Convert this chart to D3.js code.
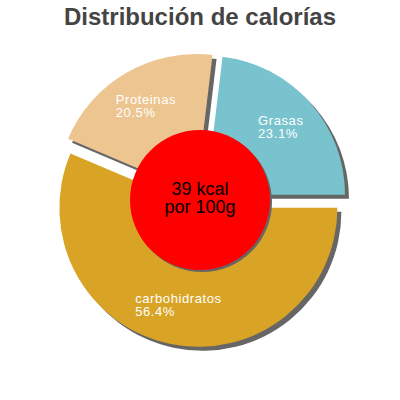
<!DOCTYPE html>
<html lang="es">
<head>
    <meta charset="utf-8">
    <title>calorias</title>
    <script type="text/javascript" src="https://cdnjs.cloudflare.com/ajax/libs/d3/7.8.5/d3.min.js"></script>
    <style>
      body { margin: 0; background: #fff; }
      text { font-family: "Liberation Sans", Arial, sans-serif; }
    </style>
</head>
<body>
    <script type="text/javascript">
      //chart data
      var categories = ["carbohidratos", "Proteinas", "Grasas"];
      var percents = [56.4, 20.5, 23.1];
      var colors = ["#d9a425", "#edc591", "#78c3cd"];
      var kcal = 39;
      var titleText = "Distribución de calorías";

      //dimensions
      var width = 400,
          height = 400,
          cx = 200,
          cy = 200,
          radius = 139,
          innerR = 70,
          explode = 8,
          labelR = 100;

      var svg = d3.select("body")
                  .append("svg")
                  .attr("width", width)
                  .attr("height", height);

      //title
      svg.append("text")
         .attr("x", width / 2)
         .attr("y", 25)
         .attr("text-anchor", "middle")
         .style("font-size", "24px")
         .style("font-weight", "bold")
         .style("fill", "#444")
         .text(titleText);

      var pie = d3.pie()
                  .sort(null)
                  .startAngle(Math.PI / 2)
                  .endAngle(Math.PI / 2 + 2 * Math.PI)
                  .value(function(d) { return d; });

      var arcs = pie(percents);

      var arc = d3.arc()
                  .innerRadius(0)
                  .outerRadius(radius);

      //offset of every slice along its middle angle
      function offset(d) {
        var a = (d.startAngle + d.endAngle) / 2;
        return [Math.sin(a) * explode, -Math.cos(a) * explode];
      }

      var g = svg.append("g")
                 .attr("transform", "translate(" + cx + "," + cy + ")");

      //shadows first
      g.selectAll(".shadow")
       .data(arcs)
       .enter()
       .append("path")
       .attr("class", "shadow")
       .attr("d", arc)
       .attr("fill", "#666")
       .attr("transform", function(d) {
         var o = offset(d);
         return "translate(" + (o[0] + 4) + "," + (o[1] + 4) + ")";
       });

      //slices
      g.selectAll(".slice")
       .data(arcs)
       .enter()
       .append("path")
       .attr("class", "slice")
       .attr("d", arc)
       .attr("fill", function(d, i) { return colors[i]; })
       .attr("transform", function(d) {
         var o = offset(d);
         return "translate(" + o[0] + "," + o[1] + ")";
       });

      //labels, block centred on the label point, lines left aligned
      arcs.forEach(function(d, i) {
        var o = offset(d);
        var a = (d.startAngle + d.endAngle) / 2;
        var lx = o[0] + Math.sin(a) * labelR,
            ly = o[1] - Math.cos(a) * labelR;
        var t = g.append("text")
                 .style("font-size", "13px")
                 .style("letter-spacing", "0.6px")
                 .style("fill", "#fff")
                 .attr("y", ly - 3);
        t.append("tspan").attr("x", 0).text(categories[i]);
        t.append("tspan").attr("x", 0).attr("dy", 13).text(percents[i].toFixed(1) + "%");
        var w = t.node().getBBox().width;
        t.selectAll("tspan").attr("x", lx - w / 2);
      });

      //centre circle with shadow
      g.append("circle")
       .attr("cx", 2)
       .attr("cy", 2)
       .attr("r", innerR)
       .attr("fill", "#666");

      g.append("circle")
       .attr("r", innerR)
       .attr("fill", "#ff0000");

      g.append("text")
       .attr("text-anchor", "middle")
       .attr("y", -5)
       .style("font-size", "18px")
       .style("fill", "#000")
       .text(kcal + " kcal");

      g.append("text")
       .attr("text-anchor", "middle")
       .attr("y", 13)
       .style("font-size", "18px")
       .style("fill", "#000")
       .text("por 100g");
    </script>
</body>
</html>
